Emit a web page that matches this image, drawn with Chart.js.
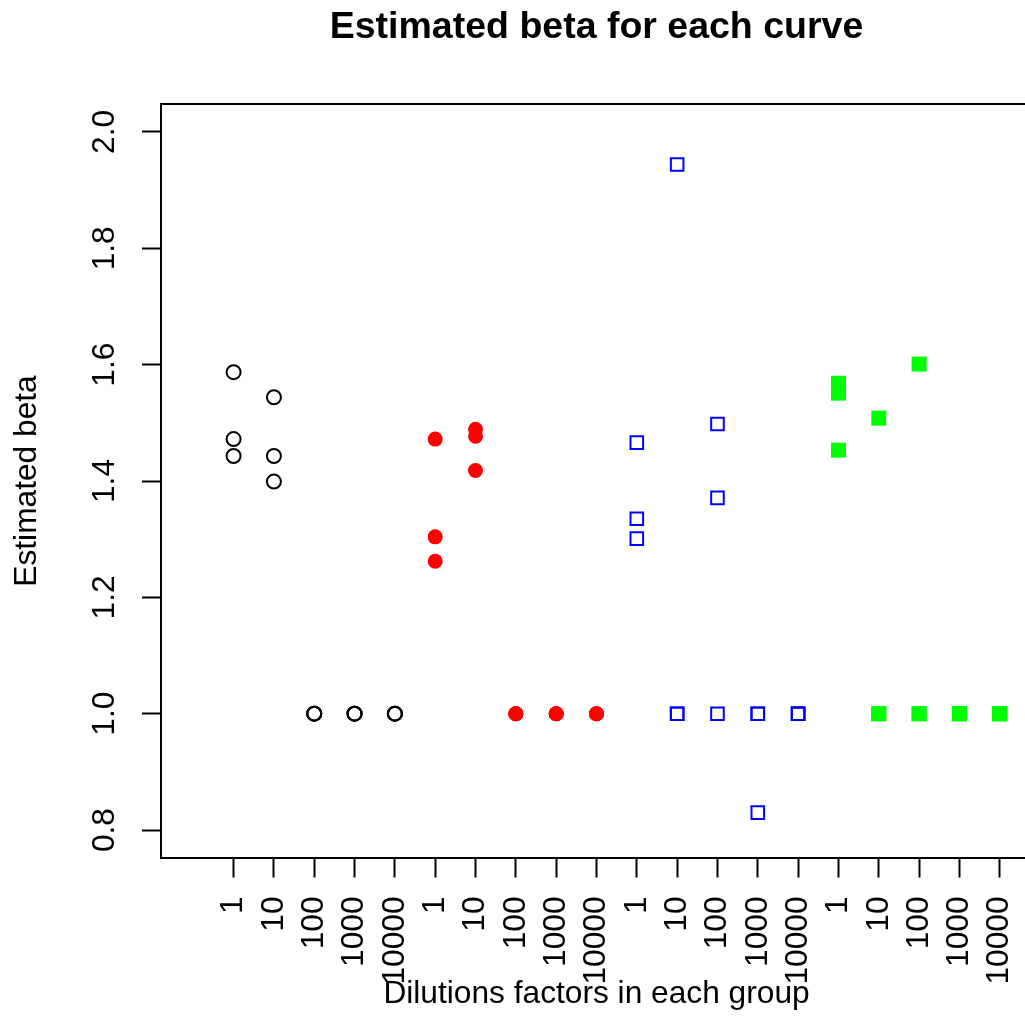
<!DOCTYPE html>
<html>
<head>
<meta charset="utf-8">
<script src="https://cdn.jsdelivr.net/npm/chart.js@4/dist/chart.umd.min.js"></script>
<style>
  html, body { margin: 0; padding: 0; background: #fff; overflow: hidden; }
  #wrap { width: 1040px; height: 1017px; }
</style>
</head>
<body>
<div id="wrap"><canvas id="c" width="1040" height="1017"></canvas></div>
<script>
// Dilution factor labels (x categories within each group)
const dilutions = ['1', '10', '100', '1000', '10000'];
// Y tick values
const yTicks = [0.8, 1.0, 1.2, 1.4, 1.6, 1.8, 2.0];

// Estimated beta per dilution (replicate curves) for each group
const groupBlack = [[1.587, 1.472, 1.443], [1.544, 1.443, 1.399], [1.0, 1.0, 1.0], [1.0, 1.0, 1.0], [1.0, 1.0, 1.0]];
const groupRed   = [[1.472, 1.304, 1.262], [1.489, 1.477, 1.418], [1.0, 1.0, 1.0], [1.0, 1.0, 1.0], [1.0, 1.0, 1.0]];
const groupBlue  = [[1.466, 1.335, 1.301], [1.944, 1.0, 1.0], [1.498, 1.371, 1.0], [1.0, 1.0, 0.830], [1.0, 1.0, 1.0]];
const groupGreen = [[1.568, 1.551, 1.453], [1.508, 1.0, 1.0], [1.601, 1.0, 1.0], [1.0, 1.0, 1.0], [1.0, 1.0, 1.0]];

const groups = [groupBlack, groupRed, groupBlue, groupGreen];
const xTickLabels = [];
groups.forEach(() => dilutions.forEach(d => xTickLabels.push(d)));
const xTickPositions = xTickLabels.map((_, i) => i + 1);

function toPoints(group, gi) {
  const pts = [];
  group.forEach((vals, di) => vals.forEach(v => pts.push({ x: gi * dilutions.length + di + 1, y: v })));
  return pts;
}

const FONT = '"Liberation Sans", Arial, Helvetica, sans-serif';
const BASE = 31.7;

const framePlugin = {
  id: 'frame',
  afterDraw(chart) {
    const { ctx, chartArea: a } = chart;
    ctx.save();
    ctx.strokeStyle = '#000';
    ctx.lineWidth = 2;
    ctx.strokeRect(a.left, a.top, a.right - a.left, a.bottom - a.top);
    ctx.restore();
  }
};

new Chart(document.getElementById('c'), {
  type: 'scatter',
  data: {
    datasets: [
      { label: 'g1', data: toPoints(groupBlack, 0), pointStyle: 'circle', pointRadius: 7, borderWidth: 2,
        borderColor: '#000000', backgroundColor: 'rgba(0,0,0,0)' },
      { label: 'g2', data: toPoints(groupRed, 1), pointStyle: 'circle', pointRadius: 7.5, borderWidth: 0,
        borderColor: '#ff0000', backgroundColor: '#ff0000' },
      { label: 'g3', data: toPoints(groupBlue, 2), pointStyle: 'rect', pointRadius: 8.9, borderWidth: 2,
        borderColor: '#0000ff', backgroundColor: 'rgba(0,0,0,0)' },
      { label: 'g4', data: toPoints(groupGreen, 3), pointStyle: 'rect', pointRadius: 10.6, borderWidth: 0,
        borderColor: '#00ff00', backgroundColor: '#00ff00' }
    ]
  },
  options: {
    responsive: false,
    animation: false,
    devicePixelRatio: 1,
    layout: { autoPadding: false, padding: { left: 0, top: 0, right: 8, bottom: 0 } },
    plugins: {
      legend: { display: false },
      tooltip: { enabled: false },
      title: {
        display: true,
        text: 'Estimated beta for each curve',
        fullSize: false,
        color: '#000',
        font: { family: FONT, size: 37.5, weight: 'bold', lineHeight: 1.2 },
        padding: { top: 5, bottom: 54 }
      }
    },
    scales: {
      x: {
        type: 'linear',
        position: 'bottom',
        min: -0.8,
        max: 20.8,
        afterBuildTicks(scale) { scale.ticks = xTickPositions.map(v => ({ value: v })); },
        afterFit(scale) { scale.height = 159; scale.paddingLeft = 0; scale.paddingRight = 0; },
        border: { display: false },
        grid: { display: true, drawOnChartArea: false, drawTicks: true, tickLength: 19.5, tickWidth: 2, tickColor: '#000' },
        ticks: {
          autoSkip: false,
          minRotation: 90,
          maxRotation: 90,
          padding: 19,
          color: '#000',
          font: { family: FONT, size: BASE },
          callback: (v, i) => xTickLabels[i]
        },
        title: {
          display: true,
          text: 'Dilutions factors in each group',
          color: '#000',
          font: { family: FONT, size: BASE, lineHeight: 1.2 },
          padding: { top: 4, bottom: 4 }
        }
      },
      y: {
        type: 'linear',
        position: 'left',
        min: 0.752,
        max: 2.048,
        afterBuildTicks(scale) { scale.ticks = yTicks.map(v => ({ value: v })); },
        afterFit(scale) { scale.width = 161; scale.paddingTop = 0; scale.paddingBottom = 0; },
        border: { display: false },
        grid: { display: true, drawOnChartArea: false, drawTicks: true, tickLength: 19, tickWidth: 2, tickColor: '#000' },
        ticks: {
          minRotation: 90,
          maxRotation: 90,
          crossAlign: 'center',
          padding: 14.3,
          color: '#000',
          font: { family: FONT, size: BASE },
          callback: v => Number(v).toFixed(1)
        },
        title: {
          display: true,
          text: 'Estimated beta',
          color: '#000',
          font: { family: FONT, size: BASE, lineHeight: 1.2 },
          padding: { top: 8.3, bottom: 4 }
        }
      }
    }
  },
  plugins: [framePlugin]
});
</script>
</body>
</html>
